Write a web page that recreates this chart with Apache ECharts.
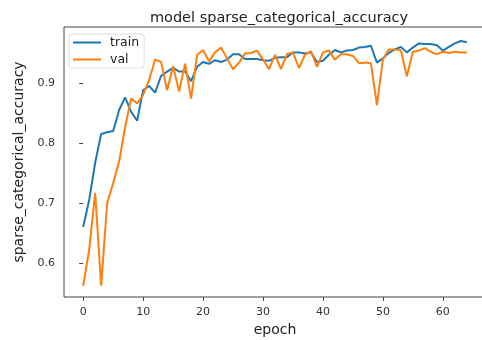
<!DOCTYPE html>
<html>
<head>
<meta charset="utf-8">
<script src="https://cdn.jsdelivr.net/npm/echarts@6/dist/echarts.min.js"></script>
<style>
  html, body { margin: 0; padding: 0; background: #fff; }
  #chart { width: 482px; height: 340px; }
</style>
</head>
<body>
<div id="chart"></div>
<script>
// values, epochs 0..64
const trainAcc = [
  0.660, 0.705, 0.767, 0.815, 0.818, 0.820, 0.855, 0.876, 0.852, 0.837,
  0.888, 0.895, 0.884, 0.912, 0.919, 0.925, 0.919, 0.919, 0.903, 0.927,
  0.935, 0.932, 0.938, 0.935, 0.939, 0.948, 0.948, 0.940, 0.940, 0.940,
  0.938, 0.937, 0.942, 0.943, 0.943, 0.951, 0.951, 0.949, 0.951, 0.935,
  0.937, 0.947, 0.955, 0.951, 0.954, 0.955, 0.959, 0.960, 0.962, 0.934,
  0.941, 0.950, 0.956, 0.960, 0.951, 0.959, 0.966, 0.965, 0.965, 0.963,
  0.954, 0.960, 0.966, 0.970, 0.968
];
const valAcc = [
  0.562, 0.622, 0.717, 0.562, 0.700, 0.733, 0.769, 0.827, 0.874, 0.866,
  0.880, 0.905, 0.939, 0.935, 0.888, 0.928, 0.886, 0.932, 0.874, 0.947,
  0.955, 0.936, 0.951, 0.959, 0.941, 0.923, 0.934, 0.949, 0.950, 0.954,
  0.939, 0.923, 0.947, 0.923, 0.948, 0.951, 0.925, 0.947, 0.953, 0.927,
  0.951, 0.954, 0.939, 0.948, 0.948, 0.945, 0.933, 0.934, 0.933, 0.863,
  0.939, 0.956, 0.956, 0.954, 0.911, 0.952, 0.954, 0.958, 0.952, 0.948,
  0.952, 0.950, 0.952, 0.951, 0.951
];
const xTicks = [0, 10, 20, 30, 40, 50, 60];
const yTicks = [0.6, 0.7, 0.8, 0.9];

const toPairs = (arr) => arr.map((v, i) => [i, v]);

let chart = echarts.init(document.getElementById('chart'));

let option = {
  animation: false,
  textStyle: { fontFamily: 'DejaVu Sans' },
  title: {
    text: 'model sparse_categorical_accuracy',
    left: 274,
    textAlign: 'center',
    top: 6,
    textStyle: { fontSize: 14.5, fontWeight: 'normal', color: '#222', fontFamily: 'DejaVu Sans' },
  },
  legend: {
    left: 69,
    top: 34,
    orient: 'vertical',
    itemWidth: 28,
    itemHeight: 2,
    itemGap: 4,
    padding: [2, 5, 2, 4],
    borderColor: '#ddd',
    borderWidth: 1,
    borderRadius: 3,
    backgroundColor: 'rgba(255,255,255,0.85)',
    icon: 'rect',
    textStyle: { fontSize: 12.5, color: '#222', fontFamily: 'DejaVu Sans', padding: [0, 0, 0, 4] },
    data: ['train', 'val'],
  },
  grid: {
    left: 64,
    top: 27,
    right: -4,
    bottom: 43,
    outerBoundsMode: 'none',
    containLabel: false,
    show: true,
    borderColor: '#444',
    borderWidth: 1,
  },
  xAxis: {
    type: 'value',
    min: -3.2,
    max: 67.2,
    name: 'epoch',
    nameLocation: 'middle',
    nameGap: 24,
    nameTextStyle: { fontSize: 14, color: '#222', fontFamily: 'DejaVu Sans' },
    splitLine: { show: false },
    axisLine: { show: false },
    axisTick: { show: true, length: 4, lineStyle: { color: '#444' }, customValues: xTicks },
    axisLabel: { fontSize: 11, color: '#333', margin: 10, customValues: xTicks },
  },
  yAxis: {
    type: 'value',
    min: 0.5433,
    max: 0.9933,
    name: 'sparse_categorical_accuracy',
    nameLocation: 'middle',
    nameGap: 36,
    nameTextStyle: { fontSize: 14, color: '#222', fontFamily: 'DejaVu Sans' },
    splitLine: { show: false },
    axisLine: { show: false },
    axisTick: { show: true, length: 4, lineStyle: { color: '#444' }, customValues: yTicks },
    axisLabel: { fontSize: 11, color: '#333', margin: 9, customValues: yTicks, formatter: (v) => v.toFixed(1) },
  },
  series: [
    {
      name: 'train',
      type: 'line',
      data: toPairs(trainAcc),
      showSymbol: false,
      lineStyle: { width: 2, color: '#1f77b4' },
      itemStyle: { color: '#1f77b4' },
    },
    {
      name: 'val',
      type: 'line',
      data: toPairs(valAcc),
      showSymbol: false,
      lineStyle: { width: 2, color: '#ff7f0e' },
      itemStyle: { color: '#ff7f0e' },
    },
  ],
};

chart.setOption(option);
</script>
</body>
</html>
